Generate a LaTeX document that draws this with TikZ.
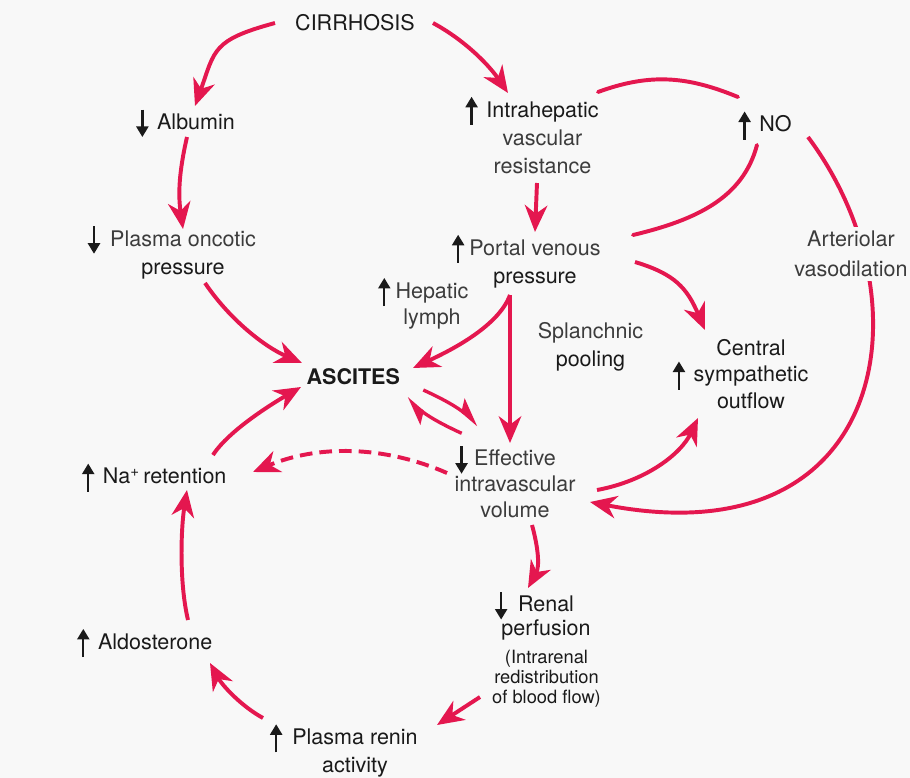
\documentclass[tikz,border=0pt]{standalone}
\usepackage{xcolor}
\usepackage{fontspec}
\setmainfont{TeX Gyre Heros}
\usepackage{tikz}
\usetikzlibrary{calc}
\usetikzlibrary{arrows.meta}

\definecolor{crim}{HTML}{E4174F}
\definecolor{ink}{HTML}{1A1A1A}
\definecolor{inkgray}{HTML}{3C3C3C}
\definecolor{bgcol}{HTML}{F8F8F8}

% small black up/down arrows in front of a label
\newcommand{\upar}[1][10.5pt]{\tikz[overlay,baseline=0pt]\draw[draw=ink,line width=1.7pt,-{Triangle[length=7.5pt,width=8.5pt]}] (-#1,-5.5pt) -- (-#1,14.5pt);}
\newcommand{\dnar}[1][10.5pt]{\tikz[overlay,baseline=0pt]\draw[draw=ink,line width=1.7pt,-{Triangle[length=7.5pt,width=8.5pt]}] (-#1,14pt) -- (-#1,-5.5pt);}

\tikzset{
  lbl/.style={align=center,inner sep=0pt,outer sep=0pt,text=ink,font=\fontsize{15.3}{20}\selectfont},
  lead/.style={font=\fontsize{15.3}{#1}\selectfont},
  flow/.style={draw=crim,line width=2.8pt,-{Stealth[length=19pt,width=16pt,inset=6pt]}},
  link/.style={draw=crim,line width=2.8pt,line cap=round},
  harp/.style={draw=crim,line width=2.4pt,-{Stealth[harpoon,length=17pt,width=16pt,inset=4pt]}}
}

\begin{document}
\begin{tikzpicture}[x=0.025cm,y=0.025cm]
\useasboundingbox (0,0) rectangle (910,-778);
\fill[bgcol] (0,0) rectangle (910,-778);

% labels
\node[lbl] (cirr) at (355,-23) {CIRRHOSIS};
\node[lbl] (alb) at (196,-121.6) {\dnar Albumin};
\node[lbl,text=inkgray] (onc) at (183,-254.6) {\dnar[11.5pt]Plasma oncotic\\\textcolor{ink}{pressure}};
\node[lbl,text=inkgray] (intra) at (542.5,-137.6) {\upar\textcolor{ink}{Intrahepatic}\\vascular\\resistance};
\node[lbl] (no) at (775.5,-124) {\upar NO};
\node[lbl,text=inkgray] (portal) at (535,-263.7) {\upar[8pt]Portal venous\\\textcolor{ink}{pressure}};
\node[lbl,lead=18.3,text=inkgray] (lymph) at (432,-305.7) {\upar[8pt]Hepatic\\lymph};
\node[lbl,text=inkgray] (splanch) at (590.5,-347) {Splanchnic\\\textcolor{ink}{pooling}};
\node[lbl,lead=19] (central) at (751,-374) {Central\\\upar sympathetic\\outflow};
\node[lbl,font=\fontsize{15.3}{20}\selectfont\bfseries] (asc) at (353.3,-376.3) {ASCITES};
\node[lbl,lead=18.3,text=inkgray] (eff) at (515,-484) {\dnar[9pt]Effective\\intravascular\\volume};
\node[lbl] (na) at (164.7,-476.3) {\upar Na\textsuperscript{+}\,retention};
\node[lbl,lead=16.6] (renal) at (546,-618) {\dnar[12pt]Renal\\perfusion};
\node[lbl,font=\fontsize{13}{14.2}\selectfont] (intrarenal) at (546.5,-678.6) {(Intrarenal\\redistribution\\of blood flow)};
\node[lbl] (aldo) at (155.2,-641.6) {\upar Aldosterone};
\node[lbl] (renin) at (355,-753.2) {\upar[11.5pt]Plasma renin\\activity};

% Draw the arrows
\draw[flow] ($(cirr)+(-80,0)$) .. controls +(-63,-17) and +(20,56) .. ($(alb)+(-1,15.6)$);
\draw[flow] ($(cirr)+(78,0)$) .. controls +(35,-19) and +(-17,25) .. ($(intra)+(-34.5,44.6)$);
\draw[flow] ($(alb)+(-9,-15.4)$) .. controls +(-8,-35) and +(-5,35) .. ($(onc)+(0,25.6)$);
\draw[flow] ($(onc)+(22,-28.4)$) .. controls +(25,-37) and +(-37,16) .. ($(asc)+(-51.3,13.3)$);
\draw[link] ($(intra)+(55.5,45.6)$) .. controls +(52,19) and +(-51,21) .. ($(no)+(-37.5,27)$);
\draw[link] ($(no)+(-18.5,-21)$) .. controls +(-14,-53) and +(63,15) .. ($(portal)+(98,28.7)$);
\draw[flow] ($(no)+(32.5,-13)$) .. controls +(122,-163) and +(300,-58) .. ($(eff)+(75,-18)$);
\draw[flow] ($(intra)+(-5.5,-45.4)$) -- ($(portal)+(0,31.7)$);
\draw[flow] ($(portal)+(100,1.7)$) .. controls +(40,-12) and +(-18,42) .. ($(central)+(-46,44)$);
\draw[flow] ($(portal)+(-25,-31.3)$) .. controls +(-12,-33) and +(32,15) .. ($(asc)+(59.7,8.3)$);
\draw[flow] ($(portal)+(-25,-31.3)$) -- ($(eff)+(-5,41)$);
\draw[harp] ($(asc)+(70,-13.7)$) to[bend left=8] ($(eff)+(-36.7,59)$);
\draw[harp] ($(eff)+(-53.3,50.7)$) to[bend left=8] ($(asc)+(53.4,-22)$);
\draw[flow] ($(eff)+(82,-6)$) .. controls +(49,9) and +(-17,-36) .. ($(central)+(-53,-44)$);
\draw[flow,dash pattern=on 9pt off 5pt] ($(eff)+(-68,11)$) .. controls +(-64,28) and +(64,27) .. ($(na)+(88.3,4.3)$);
\draw[flow] ($(na)+(48.3,21.3)$) .. controls +(16,25) and +(-26,-15) .. ($(asc)+(-52.3,-10.7)$);
\draw[flow] ($(aldo)+(32.8,21.6)$) .. controls +(-9,38) and +(-6,-38) .. ($(na)+(22.3,-13.7)$);
\draw[flow] ($(renin)+(-92,35.2)$) .. controls +(-22,12) and +(12,-22) .. ($(aldo)+(54.8,-21.4)$);
\draw[flow] ($(intrarenal)+(-66.5,-18.4)$) -- ($(renin)+(82,28.2)$);
\draw[flow] ($(eff)+(17,-41)$) .. controls +(6,-22) and +(12,22) .. ($(renal)+(-18,30)$);

% label over the big arc
\node[lbl,lead=21.3,text=inkgray,fill=bgcol,inner sep=3pt] (arter) at (851,-254) {Arteriolar\\vasodilation};
\end{tikzpicture}
\end{document}
